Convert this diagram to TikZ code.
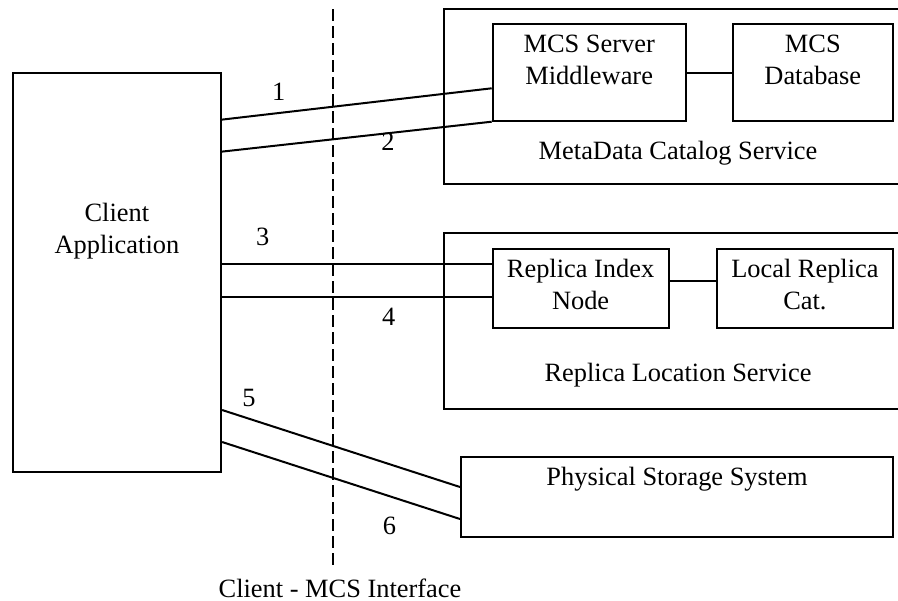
\documentclass[tikz,border=0pt]{standalone}
\usepackage{fontspec}
\setmainfont{Liberation Serif}

\begin{document}
\begin{tikzpicture}[x=0.5pt,y=-0.5pt,font=\fontsize{13.2}{16}\selectfont,
    box/.style={draw=black,line width=1pt,inner sep=0pt},
    txt/.style={inner sep=0pt,align=center},
    conn/.style={line width=1pt}]
      \clip (0,0) rectangle (898,600);

      % service boxes, running off to the right
      \node[box,minimum width=234pt,minimum height=87.5pt,
            label={[txt,anchor=south,yshift=9.6pt]south:MetaData Catalog Service}] (mcs) at (678,96.5) {};
      \node[box,minimum width=234pt,minimum height=88pt,
            label={[txt,anchor=south,yshift=11.3pt]south:Replica Location Service}] (rls) at (678,321) {};

      \node[box,minimum width=96.5pt,minimum height=48.2pt,
            label={[txt,anchor=north,yshift=-5.5pt]north:MCS Server\\Middleware}] (mcsmw) at (589.2,72.5) {};
      \node[box,minimum width=80.3pt,minimum height=48.2pt,
            label={[txt,anchor=north,yshift=-5.5pt]north:MCS\\Database}] (mcsdb) at (812.8,72.5) {};
      \node[box,minimum width=87.9pt,minimum height=39.7pt,
            label={[txt,anchor=north,yshift=-5.5pt]north:Replica Index\\Node}] (rin) at (580.6,288.7) {};
      \node[box,minimum width=88.2pt,minimum height=39.7pt,
            label={[txt,anchor=north,yshift=-5.5pt]north:Local Replica\\Cat.}] (lrc) at (804.9,288.7) {};
      \node[box,minimum width=216pt,minimum height=39.8pt,
            label={[txt,anchor=north,yshift=-5.5pt]north:Physical Storage System}] (pss) at (677,496.8) {};

      \node[box,minimum width=104.2pt,minimum height=199.7pt,
            label={[txt,yshift=20.5pt]center:Client\\Application}] (client) at (116.9,272.3) {};

      % interface line
      \coordinate (ifctop) at (333,9);
      \coordinate (ifcbot) at (333,565);
      \draw[line width=0.8pt,dash pattern=on 6pt off 2.5pt] (ifctop) -- (ifcbot);
      \node[txt] (ifc) at (340,588) {Client - MCS Interface};

      \coordinate (r3) at ([yshift=12.2pt]rin.west);
      \coordinate (r4) at ([yshift=-4.3pt]rin.west);
      \coordinate (rl) at ([yshift=3.8pt]rin.east);

      \path [conn] ([yshift=-24pt]client.north east) edge node[pos=.21,yshift=10.5pt] (n1) {1} ([yshift=-32.5pt]mcsmw.north west);
      \path [conn] ([yshift=-40pt]client.north east) edge node[pos=.615,yshift=-4.5pt] (n2) {2} (mcsmw.south west);
      \path [conn] (r3 -| client.east) edge node[pos=.151,yshift=13.5pt] (n3) {3} (r3);
      \path [conn] (r4 -| client.east) edge node[pos=.618,yshift=-10pt] (n4) {4} (r4);
      \path [conn] ([yshift=31.5pt]client.south east) edge node[pos=.113,yshift=10.5pt] (n5) {5} ([yshift=-15.5pt]pss.north west);
      \path [conn] ([yshift=15.5pt]client.south east) edge node[pos=.703,yshift=-14.75pt] (n6) {6} ([yshift=-31.5pt]pss.north west);
      \path [conn] (mcsmw) edge (mcsdb);
      \path [conn] (rl) edge (rl -| lrc.west);
    \end{tikzpicture}
\end{document}
